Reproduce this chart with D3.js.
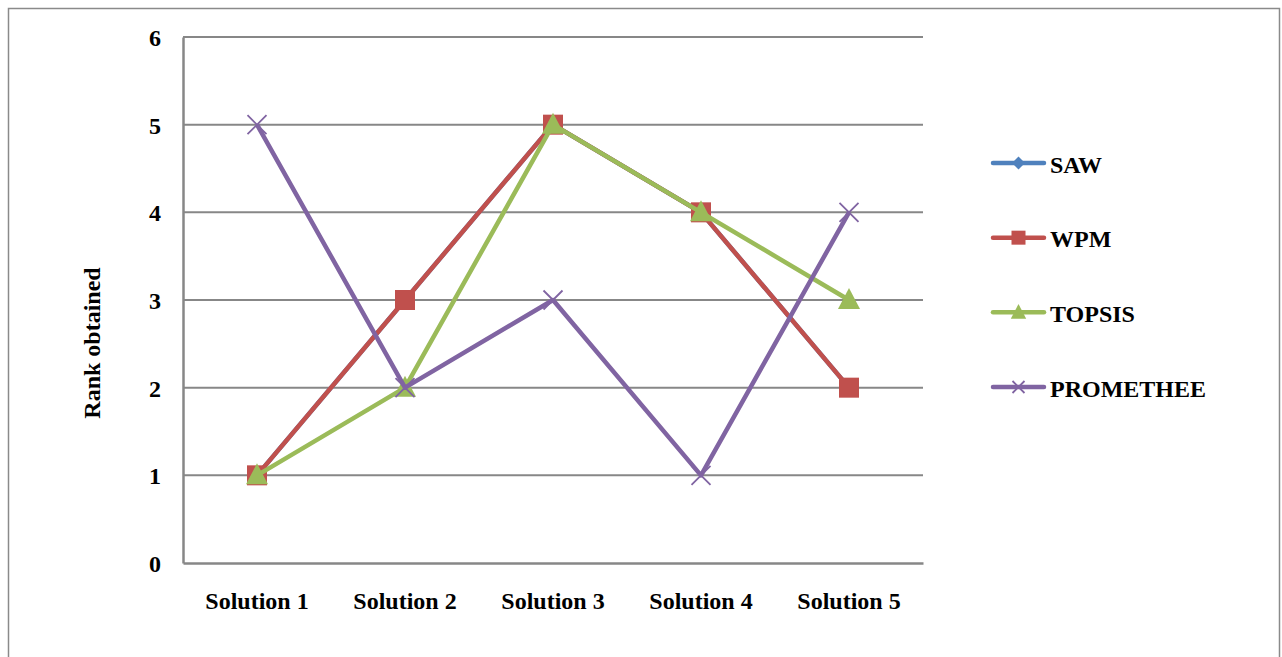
<!DOCTYPE html>
<html>
<head>
<meta charset="utf-8">
<script src="https://cdn.jsdelivr.net/npm/d3@7"></script>
<style>
  html, body { margin: 0; padding: 0; background: #fff; }
  svg { display: block; }
  text { font-family: "Liberation Serif", "Times New Roman", serif; font-weight: bold; fill: #000; }
</style>
</head>
<body>
<svg id="chart" width="1282" height="657"></svg>
<script>
// Ranks obtained by each solution under the four MCDM methods
const categories = ["Solution 1", "Solution 2", "Solution 3", "Solution 4", "Solution 5"];
const sawRanks = [1, 3, 5, 4, 2];
const wpmRanks = [1, 3, 5, 4, 2];
const topsisRanks = [1, 2, 5, 4, 3];
const prometheeRanks = [5, 2, 3, 1, 4];
const yTicks = [0, 1, 2, 3, 4, 5, 6];
const seriesNames = ["SAW", "WPM", "TOPSIS", "PROMETHEE"];

const series = [
  { name: seriesNames[0], values: sawRanks, color: "#4F81BD", marker: "diamond" },
  { name: seriesNames[1], values: wpmRanks, color: "#C0504D", marker: "square" },
  { name: seriesNames[2], values: topsisRanks, color: "#9BBB59", marker: "triangle" },
  { name: seriesNames[3], values: prometheeRanks, color: "#8064A2", marker: "x" }
];

const svg = d3.select("#chart");

// outer chart frame
svg.append("rect")
  .attr("x", 8.5).attr("y", 8.5)
  .attr("width", 1271).attr("height", 700)
  .attr("fill", "none").attr("stroke", "#8a8a8a").attr("stroke-width", 1.5);

const plot = { left: 183, top: 37, right: 923, bottom: 563 };

const x = d3.scaleBand().domain(categories).range([plot.left, plot.right]);
const y = d3.scaleLinear().domain([0, 6]).range([plot.bottom, plot.top]);
const cx = c => x(c) + x.bandwidth() / 2;

// horizontal gridlines
svg.append("g").selectAll("line")
  .data(yTicks.filter(t => t > 0))
  .join("line")
  .attr("x1", plot.left).attr("x2", plot.right)
  .attr("y1", d => y(d)).attr("y2", d => y(d))
  .attr("stroke", "#878787").attr("stroke-width", 2);

// axes
const yAxis = d3.axisLeft(y).tickValues(yTicks).tickSize(0).tickPadding(22).tickFormat(d3.format("d"));
const gy = svg.append("g").attr("transform", `translate(${plot.left},0)`).call(yAxis);
gy.select(".domain").attr("stroke", "#878787").attr("stroke-width", 2.5);
gy.selectAll("text").style("font-size", "24px").attr("dy", "0.35em");

const xAxis = d3.axisBottom(x).tickSize(0).tickPadding(29);
const gx = svg.append("g").attr("transform", `translate(0,${plot.bottom})`).call(xAxis);
gx.select(".domain").attr("stroke", "#878787").attr("stroke-width", 2.5);
gx.selectAll("text").style("font-size", "24px");

// y-axis title
svg.append("text")
  .attr("transform", `translate(100,343) rotate(-90)`)
  .attr("text-anchor", "middle")
  .style("font-size", "24px")
  .text("Rank obtained");

// marker shapes
function drawMarker(g, type, color, size) {
  if (type === "diamond") {
    g.append("path").attr("d", d3.symbol(d3.symbolDiamond2, size * size * 0.55)())
      .attr("fill", color);
  } else if (type === "square") {
    g.append("rect").attr("x", -size / 2).attr("y", -size / 2)
      .attr("width", size).attr("height", size).attr("fill", color);
  } else if (type === "triangle") {
    const h = size;
    g.append("path")
      .attr("d", `M0,${-h * 0.6}L${h * 0.55},${h * 0.45}L${-h * 0.55},${h * 0.45}Z`)
      .attr("fill", color);
  } else if (type === "x") {
    const r = size / 2;
    g.append("path")
      .attr("d", `M${-r},${-r}L${r},${r}M${-r},${r}L${r},${-r}`)
      .attr("stroke", color).attr("stroke-width", 1.8).attr("fill", "none");
  }
}

const line = d3.line().x((d, i) => cx(categories[i])).y(d => y(d));

series.forEach(s => {
  const g = svg.append("g");
  g.append("path")
    .attr("d", line(s.values))
    .attr("fill", "none").attr("stroke", s.color)
    .attr("stroke-width", 4.5).attr("stroke-linejoin", "round");
  s.values.forEach((v, i) => {
    const m = g.append("g").attr("transform", `translate(${cx(categories[i])},${y(v)})`);
    drawMarker(m, s.marker, s.color, s.marker === "x" ? 19 : 20);
  });
});

// legend
const legendY = d3.scalePoint().domain(seriesNames).range([163, 387]);
const legend = svg.append("g");
series.forEach(s => {
  const ly = legendY(s.name);
  legend.append("line")
    .attr("x1", 993).attr("x2", 1044).attr("y1", ly).attr("y2", ly)
    .attr("stroke", s.color).attr("stroke-width", 4.5).attr("stroke-linecap", "round");
  const m = legend.append("g").attr("transform", `translate(1018.5,${ly})`);
  drawMarker(m, s.marker, s.color, s.marker === "x" ? 12 : 14);
  legend.append("text")
    .attr("x", 1050).attr("y", ly).attr("dy", "0.4em")
    .style("font-size", "24px")
    .text(s.name);
});
</script>
</body>
</html>
